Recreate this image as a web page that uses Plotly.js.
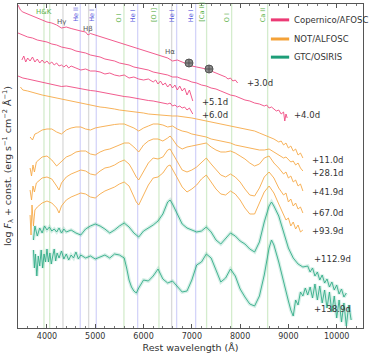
<!DOCTYPE html>
<html><head><meta charset="utf-8">
<script src="https://cdn.plot.ly/plotly-3.0.1.min.js"></script>
<style>html,body{margin:0;padding:0;background:#fff}#chart{width:372px;height:358px}</style>
</head><body><div id="chart"></div>
<script>
// ---- data: [rest wavelength (Å), log F + const] ----
const sp_p03_0 = [[3400,32.3],[3450,31.8],[3500,31.6],[3600,31.4],[3700,31.2],[3800,31.0],[3900,30.8],[4000,30.6],[4100,30.5],[4200,30.3],[4300,30.0],[4400,30.1],[4500,29.95],[4600,29.8],[4700,29.7],[4800,29.6],[4850,29.3],[4900,29.45],[5000,29.3],[5100,29.1],[5200,29.0],[5300,28.8],[5400,28.7],[5500,28.5],[5600,28.4],[5700,28.2],[5800,28.1],[5900,27.9],[6000,27.8],[6100,27.6],[6200,27.5],[6300,27.3],[6400,27.2],[6500,27.0],[6600,26.7],[6700,26.8],[6800,26.6],[6900,26.4],[7000,26.2],[7100,26.1],[7200,26.0],[7300,25.9],[7350,25.6],[7400,25.7],[7500,25.5],[7600,25.3],[7650,25.2],[7700,25.1],[7750,24.9],[7800,25.0],[7850,24.7],[7900,24.8],[7950,24.5]];
const sp_p04_0 = [[3400,29.5],[3500,29.3],[3600,29.1],[3700,29.0],[3800,28.8],[3900,28.7],[4000,28.6],[4100,28.4],[4200,28.3],[4300,28.1],[4400,28.0],[4500,27.9],[4600,27.7],[4700,27.6],[4800,27.5],[4900,27.3],[5000,27.2],[5100,27.1],[5200,26.9],[5300,26.8],[5400,26.7],[5500,26.5],[5600,26.4],[5700,26.3],[5800,26.1],[5900,26.0],[6000,25.9],[6100,25.8],[6200,25.6],[6300,25.5],[6400,25.4],[6500,25.3],[6600,25.1],[6700,25.1],[6800,24.9],[6900,24.8],[7000,24.6],[7100,24.5],[7200,24.3],[7300,24.2],[7400,24.0],[7500,23.9],[7600,23.7],[7700,23.5],[7800,23.3],[7900,23.2],[8000,23.0],[8100,22.8],[8200,22.7],[8300,22.5],[8400,22.4],[8500,22.2],[8550,22.3],[8600,22.0],[8650,22.1],[8700,21.9],[8750,21.7],[8800,21.8],[8850,21.4],[8900,21.6],[8925,20.7],[8950,21.4],[8975,21.0]];
const sp_p05_1 = [[3480,26.8],[3520,27.2],[3560,26.6],[3600,27.0],[3650,26.7],[3700,27.1],[3750,26.6],[3800,26.9],[3850,26.5],[3900,26.8],[3950,26.5],[4000,26.7],[4050,26.4],[4100,26.6],[4150,26.3],[4200,26.5],[4250,26.2],[4300,26.3],[4350,26.1],[4400,26.3],[4450,26.0],[4500,26.2],[4600,26.0],[4700,25.8],[4800,25.9],[4900,25.7],[5000,25.7],[5100,25.6],[5200,25.4],[5300,25.5],[5400,25.3],[5500,25.2],[5600,25.3],[5700,25.0],[5800,25.1],[5900,24.9],[6000,24.8],[6100,24.9],[6200,24.6],[6250,24.8],[6300,24.4],[6350,24.7],[6400,24.3],[6450,24.5],[6500,24.1],[6550,24.4],[6600,24.0],[6650,24.3],[6700,23.8],[6750,24.2],[6800,23.7],[6850,24.0],[6900,23.3],[6950,23.8],[7000,23.0],[7020,22.7]];
const sp_p06_0 = [[3400,25.2],[3500,25.0],[3600,24.9],[3700,24.8],[3800,24.7],[3900,24.6],[4000,24.5],[4100,24.4],[4200,24.3],[4300,24.15],[4400,24.2],[4500,24.1],[4600,24.0],[4700,23.9],[4800,23.8],[4900,23.75],[5000,23.7],[5100,23.6],[5200,23.5],[5300,23.4],[5400,23.3],[5500,23.2],[5600,23.15],[5700,23.1],[5800,23.0],[5900,22.9],[6000,22.8],[6100,22.75],[6200,22.7],[6300,22.6],[6400,22.5],[6500,22.4],[6550,22.5],[6600,22.2],[6650,22.3],[6700,22.1],[6750,22.2],[6800,22.0],[6850,22.1],[6900,21.8],[6950,22.0],[7000,21.6],[7020,21.4]];
const sp_p11_0 = [[3450,24.1],[3500,23.8],[3600,23.7],[3700,23.55],[3800,23.4],[3900,23.3],[4000,23.2],[4100,23.1],[4200,23.0],[4300,22.85],[4400,22.8],[4500,22.7],[4600,22.6],[4700,22.5],[4800,22.4],[4900,22.3],[5000,22.2],[5100,22.1],[5200,22.05],[5300,22.0],[5400,21.9],[5500,21.8],[5600,21.75],[5700,21.7],[5800,21.6],[5900,21.55],[6000,21.5],[6100,21.4],[6200,21.35],[6300,21.3],[6400,21.3],[6500,21.25],[6600,21.2],[6700,21.2],[6800,21.15],[6900,21.1],[7000,21.0],[7100,20.9],[7200,20.8],[7300,20.7],[7400,20.6],[7500,20.5],[7600,20.4],[7700,20.3],[7800,20.2],[7900,20.1],[8000,20.0],[8100,19.9],[8200,19.8],[8300,19.7],[8400,19.5],[8500,19.3],[8600,19.1],[8700,18.9],[8800,18.6],[8850,18.7],[8900,18.3],[8950,18.5],[9000,18.0],[9050,18.2],[9100,17.7],[9150,17.9],[9200,17.3],[9250,17.5],[9300,17.0]];
const sp_p28_1 = [[3650,19.1],[3700,18.8],[3750,19.4],[3800,19.5],[3900,19.8],[4000,19.9],[4100,19.9],[4200,19.6],[4300,19.4],[4400,19.8],[4500,20.0],[4600,20.1],[4700,20.1],[4800,19.9],[4900,19.8],[5000,20.0],[5100,20.1],[5200,20.2],[5300,20.3],[5400,20.35],[5500,20.4],[5600,20.4],[5700,20.2],[5800,20.0],[5900,19.7],[6000,20.0],[6100,20.2],[6200,20.4],[6300,20.4],[6400,20.3],[6500,20.1],[6600,20.2],[6700,19.9],[6800,19.7],[6900,19.6],[7000,19.4],[7100,19.3],[7200,19.2],[7300,19.1],[7400,18.9],[7500,18.8],[7600,18.7],[7700,18.6],[7800,18.5],[7900,18.3],[8000,18.2],[8100,18.1],[8200,18.0],[8300,17.9],[8400,17.8],[8500,17.8],[8600,17.9],[8700,17.6],[8800,17.3],[8900,17.0],[8950,17.1],[9000,16.8],[9050,16.6],[9100,16.7],[9150,16.3],[9200,16.5],[9250,16.0],[9300,15.7]];
const sp_p41_9 = [[3650,16.0],[3680,15.2],[3710,16.3],[3740,15.6],[3780,16.6],[3850,16.9],[3900,17.1],[4000,17.2],[4100,16.8],[4200,16.2],[4300,16.7],[4400,17.1],[4500,17.3],[4600,17.6],[4700,17.7],[4800,17.7],[4900,17.4],[5000,17.3],[5100,17.6],[5200,17.8],[5300,17.9],[5400,18.1],[5500,18.3],[5600,18.5],[5700,18.5],[5800,18.1],[5900,17.6],[6000,18.3],[6100,18.7],[6200,18.9],[6300,18.9],[6400,18.7],[6500,19.0],[6550,19.2],[6600,18.9],[6700,18.2],[6800,17.9],[6900,18.1],[7000,18.2],[7100,18.3],[7200,18.4],[7300,18.5],[7400,18.1],[7500,17.8],[7600,17.6],[7700,17.6],[7800,17.7],[7900,17.5],[8000,17.2],[8100,16.9],[8200,16.5],[8300,16.2],[8400,16.4],[8500,17.0],[8600,17.2],[8700,16.5],[8800,16.0],[8900,15.4],[8950,15.6],[9000,15.0],[9050,15.2],[9100,14.6],[9150,14.8],[9200,14.2],[9250,14.4],[9300,13.7]];
const sp_p67_0 = [[3650,13.8],[3680,12.8],[3710,14.2],[3740,13.6],[3780,14.5],[3850,14.8],[3900,15.0],[4000,15.1],[4100,14.9],[4200,14.2],[4250,13.8],[4300,14.5],[4400,15.1],[4500,15.4],[4600,15.6],[4700,15.8],[4800,15.7],[4900,15.4],[5000,15.3],[5100,15.7],[5200,16.0],[5300,16.1],[5400,16.3],[5500,16.6],[5600,16.8],[5700,16.4],[5750,16.0],[5800,15.5],[5850,15.1],[5900,14.8],[5950,15.2],[6000,15.7],[6100,16.5],[6200,17.0],[6300,16.9],[6400,17.1],[6500,17.8],[6550,17.9],[6600,17.5],[6700,16.6],[6800,15.8],[6900,15.6],[7000,15.8],[7100,16.1],[7200,16.6],[7300,17.0],[7400,16.4],[7500,15.8],[7600,15.3],[7700,15.1],[7800,15.4],[7900,15.1],[8000,14.6],[8100,13.9],[8200,13.3],[8300,13.2],[8400,14.0],[8500,15.1],[8600,15.6],[8700,15.0],[8800,14.0],[8900,13.3],[8950,13.5],[9000,12.6],[9050,12.9],[9100,12.2],[9150,12.5],[9200,11.9],[9250,12.1],[9300,11.5]];
const sp_p93_9 = [[3650,11.3],[3670,9.3],[3690,12.3],[3720,10.2],[3750,11.8],[3800,12.1],[3900,12.5],[4000,12.7],[4100,12.5],[4200,12.0],[4250,11.5],[4300,12.2],[4400,12.8],[4500,13.1],[4600,13.3],[4700,13.5],[4800,13.4],[4900,13.1],[5000,13.0],[5100,13.4],[5200,13.7],[5300,13.9],[5400,14.1],[5500,14.4],[5600,14.6],[5700,14.2],[5750,13.7],[5800,13.1],[5850,12.6],[5900,12.3],[5950,12.8],[6000,13.4],[6100,14.3],[6200,15.0],[6300,15.1],[6400,15.5],[6500,16.2],[6550,16.3],[6600,15.9],[6700,15.0],[6800,14.1],[6900,13.6],[7000,13.9],[7100,14.3],[7200,14.9],[7300,15.3],[7400,14.6],[7500,13.9],[7600,13.4],[7700,13.3],[7800,13.7],[7900,13.4],[8000,12.8],[8100,12.0],[8200,11.4],[8300,11.4],[8400,12.5],[8500,13.6],[8600,14.2],[8700,13.5],[8800,12.4],[8850,11.8],[8900,11.4],[8950,10.8],[9000,11.0],[9050,10.2],[9100,10.6],[9150,9.9],[9200,10.3],[9250,9.6],[9300,9.8]];
const sp_p112_9 = [[3720,8.8],[3750,10.2],[3800,9.2],[3850,10.0],[3900,9.5],[3950,10.2],[4000,9.8],[4050,10.1],[4100,9.7],[4150,9.9],[4200,9.6],[4250,10.0],[4300,9.5],[4350,9.9],[4400,9.6],[4500,9.8],[4600,9.5],[4700,9.3],[4800,9.9],[4900,10.2],[5000,10.4],[5100,10.2],[5200,9.9],[5300,9.5],[5400,9.8],[5500,10.2],[5600,10.5],[5700,10.1],[5800,9.5],[5900,9.1],[6000,9.7],[6100,10.0],[6200,10.3],[6300,10.7],[6400,11.4],[6500,12.6],[6550,12.8],[6600,12.4],[6700,11.4],[6800,10.4],[6900,10.0],[7000,9.8],[7100,9.6],[7200,9.7],[7300,10.1],[7400,9.6],[7500,8.8],[7600,8.4],[7700,8.9],[7800,9.5],[7900,9.2],[8000,8.7],[8100,8.4],[8200,7.9],[8300,7.6],[8400,8.6],[8500,10.6],[8600,12.2],[8650,12.6],[8700,12.2],[8800,11.2],[8900,9.6],[9000,8.0],[9100,7.0],[9200,6.4],[9300,6.1],[9400,6.2],[9450,5.6],[9500,6.0],[9550,5.2],[9600,5.6],[9650,4.8],[9700,5.3],[9750,4.5],[9800,4.9],[9850,4.1],[9900,4.6],[9950,3.8],[10000,4.3],[10050,3.4],[10100,3.9],[10150,3.1],[10200,3.5]];
const sp_p138_9 = [[3720,7.8],[3740,6.0],[3760,7.4],[3790,5.2],[3820,7.2],[3850,6.2],[3880,7.8],[3910,6.0],[3940,7.4],[3970,6.6],[4000,7.9],[4030,6.6],[4060,7.5],[4090,6.4],[4120,7.2],[4150,7.9],[4180,6.7],[4210,7.5],[4250,7.0],[4300,7.7],[4350,6.9],[4400,7.4],[4450,6.8],[4500,7.3],[4550,7.0],[4600,7.6],[4650,6.9],[4700,7.3],[4800,7.0],[4900,7.2],[5000,6.9],[5100,7.1],[5200,7.3],[5300,7.0],[5400,7.4],[5500,7.3],[5600,7.0],[5650,6.0],[5700,4.8],[5750,4.1],[5800,3.7],[5850,3.5],[5900,4.0],[6000,4.8],[6100,4.7],[6200,5.2],[6300,5.9],[6400,4.9],[6500,4.5],[6600,4.7],[6700,4.2],[6800,3.6],[6900,3.7],[7000,4.8],[7100,6.3],[7200,6.6],[7300,7.4],[7400,7.0],[7500,5.8],[7600,4.6],[7700,5.0],[7800,5.9],[7900,5.2],[8000,3.9],[8100,3.1],[8200,2.4],[8300,2.2],[8400,3.2],[8500,5.3],[8600,8.0],[8650,8.8],[8700,8.3],[8800,6.6],[8900,4.5],[9000,2.7],[9050,1.8],[9100,1.2],[9150,2.8],[9200,2.3],[9250,3.6],[9300,3.2],[9350,4.0],[9400,3.3],[9450,4.1],[9500,3.0],[9550,4.4],[9600,2.8],[9650,4.2],[9700,2.5],[9750,3.8],[9800,2.0],[9850,3.6],[9900,1.6],[9950,3.2],[10000,1.0],[10050,2.8],[10100,0.6],[10150,2.5],[10200,0.2],[10250,2.3],[10300,0.8]];

const phases = ['+3.0d','+4.0d','+5.1d','+6.0d','+11.0d','+28.1d','+41.9d','+67.0d','+93.9d','+112.9d','+138.9d'];
const instrumentOf = ['Copernico/AFOSC','Copernico/AFOSC','Copernico/AFOSC','Copernico/AFOSC','NOT/ALFOSC','NOT/ALFOSC','NOT/ALFOSC','NOT/ALFOSC','NOT/ALFOSC','GTC/OSIRIS','GTC/OSIRIS'];
const spectra = [sp_p03_0, sp_p04_0, sp_p05_1, sp_p06_0, sp_p11_0, sp_p28_1, sp_p41_9, sp_p67_0, sp_p93_9, sp_p112_9, sp_p138_9];

const instruments = ['Copernico/AFOSC','NOT/ALFOSC','GTC/OSIRIS'];
const instColors = ['#ec3a75','#f4a238','#1d9e78'];
const specColors = ['#ef4a82','#f6aa48','#33ad88'];

// telluric markers
const tellWave = [6941, 7356];
const tellFlux = [26.5, 25.9];

// line identifications
const lineWave  = [3938, 4056, 4331, 4689, 4863, 5021, 5594, 5878, 6319, 6582, 6685, 7079, 7306, 7824, 8570];
const lineKind  = ['g','g','k','b','k','b','g','b','g','k','b','b','g','g','g'];
const lineLabel = ['H&K','','Hγ','He II','Hβ','He I','O I','He I','[O I]','Hα','He I','He I','[Ca II]','O I','Ca II'];

// ---- build ----
const traces = [];
spectra.forEach((sp, i) => {
  const k = instruments.indexOf(instrumentOf[i]);
  const c = specColors[k];
  if (k === 2) {
    traces.push({x: sp.map(p=>p[0]), y: sp.map(p=>p[1]), mode:'lines', line:{color:c, width:3.5}, opacity:0.2, hoverinfo:'skip', showlegend:false});
  }
  traces.push({x: sp.map(p=>p[0]), y: sp.map(p=>p[1]), mode:'lines', name: phases[i], line:{color:c, width:1}, opacity:0.9, showlegend:false});
});
traces.push({x: tellWave, y: tellFlux, mode:'markers', marker:{symbol:'circle-cross', size:8, color:'#8c8c8c', line:{color:'#555', width:1}}, showlegend:false});

const lineColors = {g:'rgba(120,195,100,0.32)', b:'rgba(120,120,235,0.32)', k:'rgba(140,140,140,0.32)'};
const textColors = {g:'#62b34e', b:'#5a5ae0', k:'#555'};
const shapes = lineWave.map((w,i)=>({type:'line', xref:'x', yref:'paper', x0:w, x1:w, y0:0, y1:1, line:{color:lineColors[lineKind[i]], width:1.3}, layer:'below'}));

const annotations = [];
const horizPos = {'H&K':[0.975,0], 'Hγ':[0.944,-1], 'Hβ':[0.923,-1], 'Hα':[0.852,-2]};
lineWave.forEach((w,i)=>{
  const t = lineLabel[i];
  if (!t) return;
  if (horizPos[t]) {
    annotations.push({x:w, xref:'x', y:horizPos[t][0], yref:'paper', text:t, showarrow:false, xanchor:'center', yanchor:'middle', xshift:horizPos[t][1], font:{size:7, color:textColors[lineKind[i]], family:'DejaVu Sans'}});
  } else {
    annotations.push({x:w, xref:'x', y:0.938, yref:'paper', text:t, textangle:-90, showarrow:false, xanchor:'center', yanchor:'bottom', xshift:-5, font:{size:6.5, color:textColors[lineKind[i]], family:'DejaVu Sans'}});
  }
});

// phase labels (positions)
const labelPos = [[8101,24.5],[9075,21.3],[7169,22.6],[7169,21.3],[9447,16.8],[9447,15.5],[9447,13.6],[9447,11.5],[9447,9.7],[9489,6.9],[9489,1.9]];
phases.forEach((p,i)=>{
  annotations.push({x:labelPos[i][0], y:labelPos[i][1], xref:'x', yref:'y', text:p, showarrow:false, xanchor:'left', yanchor:'middle', font:{size:8.5, color:'#333', family:'DejaVu Sans'}});
});

// legend (drawn)
const legY = [0.951, 0.892, 0.836];
instruments.forEach((n,i)=>{
  shapes.push({type:'line', xref:'paper', yref:'paper', x0:0.733, x1:0.786, y0:legY[i], y1:legY[i], line:{color:instColors[i], width:3}});
  annotations.push({x:0.794, y:legY[i], xref:'paper', yref:'paper', text:n, showarrow:false, xanchor:'left', yanchor:'middle', font:{size:8.5, color:'#333', family:'DejaVu Sans'}});
});

const layout = {
  width:372, height:358,
  margin:{l:18, r:9, t:4, b:30},
  paper_bgcolor:'#fff', plot_bgcolor:'#fff',
  showlegend:false,
  font:{family:'DejaVu Sans', size:8, color:'#333'},
  xaxis:{range:[3400,10545], showgrid:false, zeroline:false, showline:true, linecolor:'#555', linewidth:1, mirror:'allticks',
         ticks:'inside', ticklen:4, tickwidth:1, tickcolor:'#555', dtick:1000, tick0:0, tickformat:'d',
         tickfont:{size:8, color:'#333'}, minor:{dtick:200, ticks:'inside', ticklen:2, tickcolor:'#777'},
         title:{text:'Rest wavelength (Å)', font:{size:9.5, color:'#333'}, standoff:4}},
  yaxis:{range:[0,32.4], showgrid:false, zeroline:false, showline:true, linecolor:'#555', linewidth:1, mirror:true,
         showticklabels:false, ticks:'',
         title:{text:'log <i>F</i><sub>λ</sub> + const. (erg s<sup>−1</sup> cm<sup>−2</sup> Å<sup>−1</sup>)', font:{size:9.5, color:'#333'}, standoff:3}},
  shapes, annotations
};
Plotly.newPlot('chart', traces, layout, {staticPlot:true, displayModeBar:false});
</script></body></html>
